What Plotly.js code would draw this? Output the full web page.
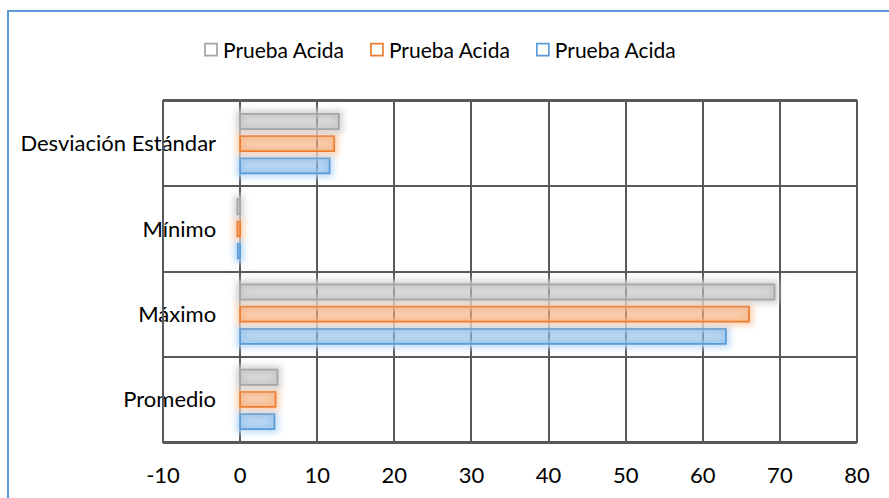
<!DOCTYPE html>
<html>
<head>
<meta charset="utf-8">
<script src="https://cdn.plot.ly/plotly-3.0.1.min.js"></script>
<style>
  html, body { margin: 0; padding: 0; background: #fff; overflow: hidden; }
  #chart { width: 889px; height: 498px; position: relative; }
  #frame {
    position: absolute; left: 7px; top: 10px; width: 2000px; height: 2000px;
    border-left: 2px solid #5b9bd5; border-top: 2px solid #5b9bd5;
    pointer-events: none; box-sizing: border-box;
  }
</style>
</head>
<body>
<svg width="0" height="0" style="position:absolute">
  <defs>
    <filter id="glow-gray" filterUnits="userSpaceOnUse" x="-30" y="-30" width="760" height="400" color-interpolation-filters="sRGB">
      <feMorphology in="SourceAlpha" operator="dilate" radius="3" result="d"/>
      <feFlood flood-color="#d2d2d2" flood-opacity="1"/>
      <feComposite in2="d" operator="in"/>
      <feGaussianBlur stdDeviation="3" result="g"/>
      <feMerge><feMergeNode in="g"/><feMergeNode in="SourceGraphic"/></feMerge>
    </filter>
    <filter id="glow-orange" filterUnits="userSpaceOnUse" x="-30" y="-30" width="760" height="400" color-interpolation-filters="sRGB">
      <feMorphology in="SourceAlpha" operator="dilate" radius="3" result="d"/>
      <feFlood flood-color="#fbcfae" flood-opacity="1"/>
      <feComposite in2="d" operator="in"/>
      <feGaussianBlur stdDeviation="3" result="g"/>
      <feMerge><feMergeNode in="g"/><feMergeNode in="SourceGraphic"/></feMerge>
    </filter>
    <filter id="glow-blue" filterUnits="userSpaceOnUse" x="-30" y="-30" width="760" height="400" color-interpolation-filters="sRGB">
      <feMorphology in="SourceAlpha" operator="dilate" radius="3" result="d"/>
      <feFlood flood-color="#bcdaf9" flood-opacity="1"/>
      <feComposite in2="d" operator="in"/>
      <feGaussianBlur stdDeviation="3" result="g"/>
      <feMerge><feMergeNode in="g"/><feMergeNode in="SourceGraphic"/></feMerge>
    </filter>
  </defs>
</svg>
<div id="chart"></div>
<div id="frame"></div>
<script>
// Statistics of the acid-test ratio, one row per statistic
const categories = ['Promedio', 'Máximo', 'Mínimo', 'Desviación Estándar'];
const seriesNames = ['Prueba Acida', 'Prueba Acida', 'Prueba Acida'];
const valuesGray   = [4.85, 69.3, -0.35, 12.8];
const valuesOrange = [4.6, 66.0, -0.35, 12.2];
const valuesBlue   = [4.45, 63.0, -0.3, 11.6];
const xTicks = [-10, 0, 10, 20, 30, 40, 50, 60, 70, 80];

const FONT = 'Lato, "Open Sans", sans-serif';
const GRID = '#595959';

function barTrace(name, values, line, fill) {
  return {
    type: 'bar',
    orientation: 'h',
    name: name,
    y: categories,
    x: values,
    marker: { color: fill, line: { color: line, width: 1.75 } },
    hoverinfo: 'x+y'
  };
}

// Plotly stacks the first trace lowest in each group: blue, orange, then gray on top
const data = [
  barTrace(seriesNames[2], valuesBlue,   '#5b9bd5', 'rgba(91,155,213,0.30)'),
  barTrace(seriesNames[1], valuesOrange, '#ed7d31', 'rgba(237,125,49,0.28)'),
  barTrace(seriesNames[0], valuesGray,   '#a5a5a5', 'rgba(165,165,165,0.28)')
];

const layout = {
  width: 889,
  height: 498,
  margin: { l: 163, r: 32, t: 101, b: 56 },
  paper_bgcolor: '#ffffff',
  plot_bgcolor: '#ffffff',
  font: { family: FONT, size: 22, color: '#000000' },
  barmode: 'group',
  bargap: 0.22,
  bargroupgap: 0.32,
  showlegend: true,
  legend: {
    orientation: 'h',
    traceorder: 'reversed',
    xref: 'container', yref: 'container',
    x: 191 / 889, xanchor: 'left',
    y: 1 - 50 / 498, yanchor: 'middle',
    font: { family: FONT, size: 21, color: '#000000' },
    bgcolor: 'rgba(0,0,0,0)'
  },
  xaxis: {
    range: [-10, 80],
    tickvals: xTicks,
    ticktext: xTicks.map(String),
    showgrid: true,
    gridcolor: GRID,
    gridwidth: 2,
    zeroline: false,
    showline: true,
    mirror: true,
    linecolor: GRID,
    linewidth: 2,
    ticks: '',
    ticklabelstandoff: 13,
    tickfont: { family: FONT, size: 22, color: '#000000' },
    fixedrange: true
  },
  yaxis: {
    type: 'category',
    categoryorder: 'array',
    categoryarray: categories,
    tickson: 'boundaries',
    showgrid: true,
    gridcolor: GRID,
    gridwidth: 2,
    zeroline: false,
    showline: false,
    ticks: '',
    anchor: 'free',
    position: 10 / 90,
    ticklabelstandoff: 24,
    tickfont: { family: FONT, size: 22, color: '#000000' },
    fixedrange: true
  },
  // outer frame of the plotting area (left edge at -10 runs over the labels)
  shapes: [{
    type: 'rect', layer: 'above',
    xref: 'paper', yref: 'paper', x0: 0, x1: 1, y0: 0, y1: 1,
    line: { color: GRID, width: 2 }, fillcolor: 'rgba(0,0,0,0)'
  }]
};

const glowIds = ['glow-blue', 'glow-orange', 'glow-gray'];

Plotly.newPlot('chart', data, layout, { displayModeBar: false, staticPlot: true }).then(function (gd) {
  // soft coloured halo around each bar
  gd.querySelectorAll('.barlayer .trace').forEach(function (g, i) {
    g.querySelectorAll('path').forEach(function (p) {
      p.setAttribute('filter', 'url(#' + glowIds[i % 3] + ')');
    });
  });
  // legend swatches are drawn as open squares
  gd.querySelectorAll('.legend .legendpoints path').forEach(function (p) {
    p.style.fill = '#ffffff';
  });
  // tighten the space between legend swatch and its label
  gd.querySelectorAll('.legendtext').forEach(function (t) {
    const x = parseFloat(t.getAttribute('x') || '0');
    t.setAttribute('x', x - 8);
  });
});
</script>
</body>
</html>
